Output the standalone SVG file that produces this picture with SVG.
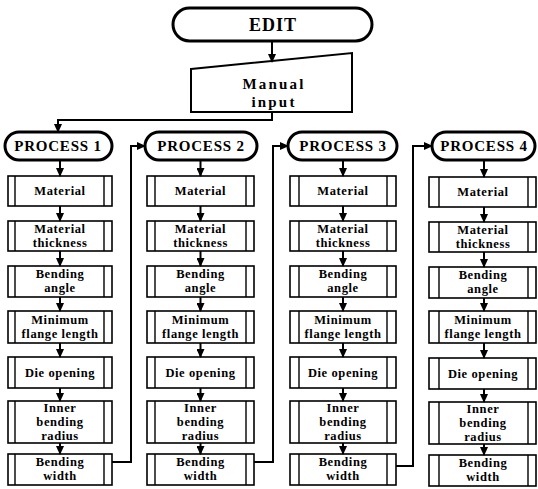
<svg xmlns="http://www.w3.org/2000/svg" width="538" height="489" viewBox="0 0 538 489">
<style>
.term{fill:#fff;stroke:#000;stroke-width:3}
.io{fill:#fff;stroke:#000;stroke-width:2}
.box{fill:#fff;stroke:#000;stroke-width:1.6}
.bar{fill:none;stroke:#000;stroke-width:1.4}
.con{fill:none;stroke:#000;stroke-width:2;marker-end:url(#ah)}
text{font-family:"Liberation Serif","Times New Roman",serif;font-weight:bold;fill:#000;text-anchor:middle}
.t1{font-size:18px;letter-spacing:1px}
.t2{font-size:15px;letter-spacing:0.8px}
.tm{font-size:15px;letter-spacing:2.2px}
.t3{font-size:12.5px;letter-spacing:0.6px}
</style>
<defs>
<marker id="ah" markerUnits="userSpaceOnUse" markerWidth="9" markerHeight="8" refX="8" refY="4" orient="auto">
<path d="M0,0 L9,4 L0,8 z" fill="#000"/>
</marker>
</defs>
<rect width="538" height="489" fill="#fff"/>

<g id="edit"><rect class="term" x="173" y="8" width="199" height="33" rx="16.5"/><text class="t1" x="273" y="31">EDIT</text></g>
<g id="manual-input"><polygon class="io" points="191,69 352,53 352,112 191,112"/><text class="tm" x="274" y="89">Manual</text><text class="tm" x="274" y="107">input</text></g>

<g id="process-1"><rect class="term" x="5" y="132" width="107" height="28" rx="14"/><text class="t2" x="58" y="151">PROCESS 1</text></g>
<g id="process-2"><rect class="term" x="145" y="132" width="112" height="28" rx="14"/><text class="t2" x="201" y="151">PROCESS 2</text></g>
<g id="process-3"><rect class="term" x="288" y="132" width="109" height="28" rx="14"/><text class="t2" x="343" y="151">PROCESS 3</text></g>
<g id="process-4"><rect class="term" x="432" y="132" width="103" height="28" rx="14"/><text class="t2" x="484" y="151">PROCESS 4</text></g>

<!-- Column 1 -->
<g id="p1-material"><rect class="box" x="8" y="176" width="104" height="30"/><path class="bar" d="M15 176V206M104 176V206"/><text class="t3" x="60" y="195">Material</text></g>
<g id="p1-thickness"><rect class="box" x="8" y="221" width="104" height="30"/><path class="bar" d="M15 221V251M104 221V251"/><text class="t3" x="60" y="233">Material</text><text class="t3" x="60" y="247">thickness</text></g>
<g id="p1-angle"><rect class="box" x="8" y="266" width="104" height="31"/><path class="bar" d="M15 266V297M104 266V297"/><text class="t3" x="60" y="278">Bending</text><text class="t3" x="60" y="292">angle</text></g>
<g id="p1-flange"><rect class="box" x="8" y="311" width="104" height="32"/><path class="bar" d="M15 311V343M104 311V343"/><text class="t3" x="60" y="324">Minimum</text><text class="t3" x="60" y="338">flange length</text></g>
<g id="p1-die"><rect class="box" x="8" y="357" width="104" height="31"/><path class="bar" d="M15 357V388M104 357V388"/><text class="t3" x="60" y="377">Die opening</text></g>
<g id="p1-radius"><rect class="box" x="8" y="401" width="104" height="42"/><path class="bar" d="M15 401V443M104 401V443"/><text class="t3" x="60" y="412">Inner</text><text class="t3" x="60" y="426">bending</text><text class="t3" x="60" y="440">radius</text></g>
<g id="p1-width"><rect class="box" x="8" y="454" width="104" height="31"/><path class="bar" d="M15 454V485M104 454V485"/><text class="t3" x="60" y="466">Bending</text><text class="t3" x="60" y="480">width</text></g>

<!-- Column 2 -->
<g id="p2-material"><rect class="box" x="147" y="176" width="107" height="30"/><path class="bar" d="M155 176V206M246 176V206"/><text class="t3" x="200.5" y="195">Material</text></g>
<g id="p2-thickness"><rect class="box" x="147" y="221" width="107" height="30"/><path class="bar" d="M155 221V251M246 221V251"/><text class="t3" x="200.5" y="233">Material</text><text class="t3" x="200.5" y="247">thickness</text></g>
<g id="p2-angle"><rect class="box" x="147" y="266" width="107" height="31"/><path class="bar" d="M155 266V297M246 266V297"/><text class="t3" x="200.5" y="278">Bending</text><text class="t3" x="200.5" y="292">angle</text></g>
<g id="p2-flange"><rect class="box" x="147" y="311" width="107" height="32"/><path class="bar" d="M155 311V343M246 311V343"/><text class="t3" x="200.5" y="324">Minimum</text><text class="t3" x="200.5" y="338">flange length</text></g>
<g id="p2-die"><rect class="box" x="147" y="357" width="107" height="31"/><path class="bar" d="M155 357V388M246 357V388"/><text class="t3" x="200.5" y="377">Die opening</text></g>
<g id="p2-radius"><rect class="box" x="147" y="401" width="107" height="42"/><path class="bar" d="M155 401V443M246 401V443"/><text class="t3" x="200.5" y="412">Inner</text><text class="t3" x="200.5" y="426">bending</text><text class="t3" x="200.5" y="440">radius</text></g>
<g id="p2-width"><rect class="box" x="147" y="454" width="107" height="31"/><path class="bar" d="M155 454V485M246 454V485"/><text class="t3" x="200.5" y="466">Bending</text><text class="t3" x="200.5" y="480">width</text></g>

<!-- Column 3 -->
<g id="p3-material"><rect class="box" x="290" y="176" width="106" height="30"/><path class="bar" d="M299 176V206M387 176V206"/><text class="t3" x="343" y="195">Material</text></g>
<g id="p3-thickness"><rect class="box" x="290" y="221" width="106" height="30"/><path class="bar" d="M299 221V251M387 221V251"/><text class="t3" x="343" y="233">Material</text><text class="t3" x="343" y="247">thickness</text></g>
<g id="p3-angle"><rect class="box" x="290" y="266" width="106" height="31"/><path class="bar" d="M299 266V297M387 266V297"/><text class="t3" x="343" y="278">Bending</text><text class="t3" x="343" y="292">angle</text></g>
<g id="p3-flange"><rect class="box" x="290" y="311" width="106" height="32"/><path class="bar" d="M299 311V343M387 311V343"/><text class="t3" x="343" y="324">Minimum</text><text class="t3" x="343" y="338">flange length</text></g>
<g id="p3-die"><rect class="box" x="290" y="357" width="106" height="31"/><path class="bar" d="M299 357V388M387 357V388"/><text class="t3" x="343" y="377">Die opening</text></g>
<g id="p3-radius"><rect class="box" x="290" y="401" width="106" height="42"/><path class="bar" d="M299 401V443M387 401V443"/><text class="t3" x="343" y="412">Inner</text><text class="t3" x="343" y="426">bending</text><text class="t3" x="343" y="440">radius</text></g>
<g id="p3-width"><rect class="box" x="290" y="454" width="106" height="31"/><path class="bar" d="M299 454V485M387 454V485"/><text class="t3" x="343" y="466">Bending</text><text class="t3" x="343" y="480">width</text></g>

<!-- Column 4 -->
<g id="p4-material"><rect class="box" x="429" y="177" width="107" height="30"/><path class="bar" d="M439 177V207M528 177V207"/><text class="t3" x="483" y="196">Material</text></g>
<g id="p4-thickness"><rect class="box" x="429" y="222" width="107" height="30"/><path class="bar" d="M439 222V252M528 222V252"/><text class="t3" x="483" y="234">Material</text><text class="t3" x="483" y="248">thickness</text></g>
<g id="p4-angle"><rect class="box" x="429" y="267" width="107" height="31"/><path class="bar" d="M439 267V298M528 267V298"/><text class="t3" x="483" y="279">Bending</text><text class="t3" x="483" y="293">angle</text></g>
<g id="p4-flange"><rect class="box" x="429" y="311" width="107" height="32"/><path class="bar" d="M439 311V343M528 311V343"/><text class="t3" x="483" y="324">Minimum</text><text class="t3" x="483" y="338">flange length</text></g>
<g id="p4-die"><rect class="box" x="429" y="358" width="107" height="31"/><path class="bar" d="M439 358V389M528 358V389"/><text class="t3" x="483" y="378">Die opening</text></g>
<g id="p4-radius"><rect class="box" x="429" y="402" width="107" height="42"/><path class="bar" d="M439 402V444M528 402V444"/><text class="t3" x="483" y="413">Inner</text><text class="t3" x="483" y="427">bending</text><text class="t3" x="483" y="441">radius</text></g>
<g id="p4-width"><rect class="box" x="429" y="455" width="107" height="31"/><path class="bar" d="M439 455V486M528 455V486"/><text class="t3" x="483" y="467">Bending</text><text class="t3" x="483" y="481">width</text></g>

<g id="connectors">
<path class="con" d="M272 41V62"/>
<path class="con" d="M272 112V120H58V132"/>
<path class="con" d="M112 462H131V146H145"/>
<path class="con" d="M254 462H273V146H288"/>
<path class="con" d="M396 466H413V146H432"/>
<path class="con" d="M60 160V176"/><path class="con" d="M60 206V221"/><path class="con" d="M60 251V266"/><path class="con" d="M60 297V311"/><path class="con" d="M60 343V357"/><path class="con" d="M60 388V401"/><path class="con" d="M60 443V454"/>
<path class="con" d="M200.5 160V176"/><path class="con" d="M200.5 206V221"/><path class="con" d="M200.5 251V266"/><path class="con" d="M200.5 297V311"/><path class="con" d="M200.5 343V357"/><path class="con" d="M200.5 388V401"/><path class="con" d="M200.5 443V454"/>
<path class="con" d="M343 160V176"/><path class="con" d="M343 206V221"/><path class="con" d="M343 251V266"/><path class="con" d="M343 297V311"/><path class="con" d="M343 343V357"/><path class="con" d="M343 388V401"/><path class="con" d="M343 443V454"/>
<path class="con" d="M484 160V177"/><path class="con" d="M484 207V222"/><path class="con" d="M484 252V267"/><path class="con" d="M484 298V311"/><path class="con" d="M484 343V358"/><path class="con" d="M484 389V402"/><path class="con" d="M484 444V455"/>
</g>
</svg>
